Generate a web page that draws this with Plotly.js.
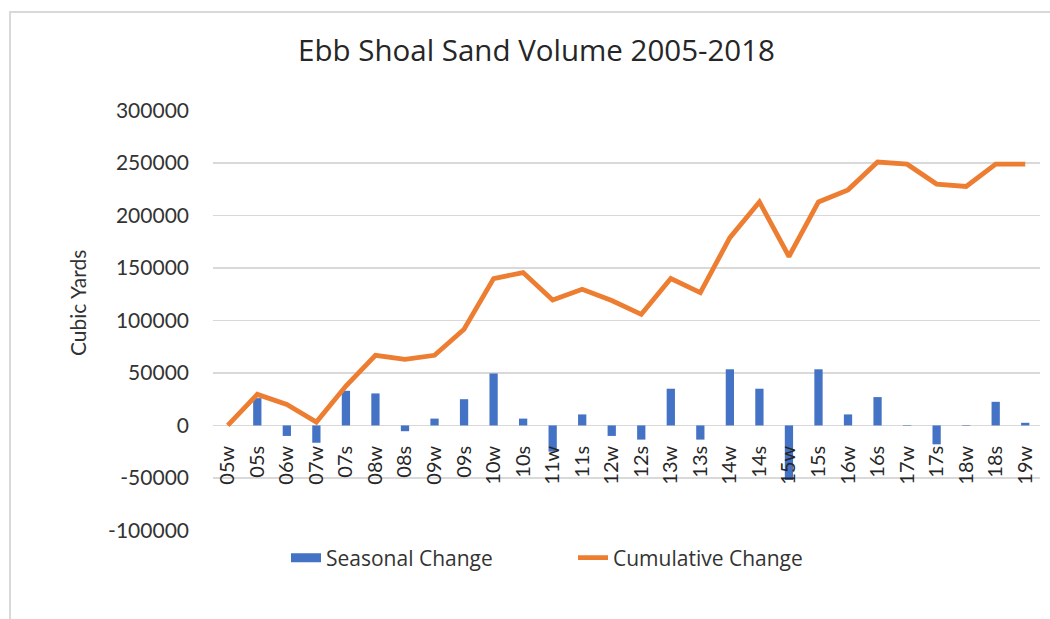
<!DOCTYPE html>
<html>
<head>
<meta charset="utf-8">
<script src="https://cdn.plot.ly/plotly-3.0.1.min.js"></script>
<style>
  html, body { margin: 0; padding: 0; background: #ffffff; overflow: hidden; }
  #wrap { position: relative; width: 1050px; height: 619px; }
  #chart { position: absolute; left: 0; top: 0; width: 1050px; height: 619px; }
  #frame { position: absolute; left: 9px; top: 11px; width: 1060px; height: 640px;
           border-left: 2px solid #d9d9d9; border-top: 2px solid #d9d9d9; pointer-events: none; }
</style>
</head>
<body>
<div id="wrap">
  <div id="chart"></div>
  <div id="frame"></div>
</div>
<script>
// Survey periods (w = winter, s = summer)
const periods = ['05w','05s','06w','07w','07s','08w','08s','09w','09s','10w','10s','11w','11s','12w',
                 '12s','13w','13s','14w','14s','15w','15s','16w','16s','17w','17s','18w','18s','19w'];

// Change in ebb shoal volume since the previous survey (cubic yards)
const seasonalChange = [0, 26000, -10000, -16500, 33000, 30500, -5500, 6500, 25000, 49500, 6500, -25000, 10500, -10000,
                        -13500, 35000, -13500, 53500, 35000, -52000, 53500, 10500, 27000, -500, -18000, -500, 22500, 2500];

// Running total of volume change since 2005 winter (cubic yards)
const cumulativeChange = [0, 29600, 20000, 3200, 37500, 66800, 63000, 66800, 91600, 140000, 145700, 119500, 129700, 119000,
                          105900, 140000, 126600, 179000, 213000, 161000, 213000, 224500, 251000, 249000, 230000, 227700, 249000, 249000];

const yTicks = [-100000, -50000, 0, 50000, 100000, 150000, 200000, 250000, 300000];

const blue = '#4472c4';
const orange = '#ed7d31';
const textFont = 'Lato, "Open Sans", sans-serif';
const wideFont = '"Open Sans", Lato, sans-serif';

const traces = [
  {
    type: 'bar',
    x: periods,
    y: seasonalChange,
    marker: { color: blue },
    showlegend: false,
    hoverinfo: 'x+y'
  },
  {
    type: 'scatter',
    mode: 'lines',
    x: periods,
    y: cumulativeChange,
    line: { color: orange, width: 4.8, shape: 'linear' },
    showlegend: false,
    hoverinfo: 'x+y'
  },
  // legend entries
  {
    type: 'scatter', mode: 'lines', x: [null], y: [null],
    name: 'Seasonal Change', line: { color: blue, width: 9 }
  },
  {
    type: 'scatter', mode: 'lines', x: [null], y: [null],
    name: 'Cumulative Change', line: { color: orange, width: 4.8 }
  }
];

const layout = {
  width: 1050,
  height: 619,
  margin: { l: 213, r: 10, t: 110, b: 88, autoexpand: false },
  paper_bgcolor: '#ffffff',
  plot_bgcolor: '#ffffff',
  font: { family: textFont, color: '#333333', size: 20 },
  title: {
    text: 'Ebb Shoal Sand Volume 2005-2018',
    x: 0.511, xanchor: 'center',
    y: 1 - 51 / 619, yanchor: 'middle', yref: 'container',
    font: { family: wideFont, size: 29.5, color: '#262626' }
  },
  bargap: 0.72,
  xaxis: {
    type: 'category',
    categoryorder: 'array',
    categoryarray: periods,
    range: [-0.5, periods.length - 0.5],
    anchor: 'free',
    position: 0.25,
    showgrid: false,
    showline: false,
    zeroline: false,
    ticks: '',
    tickangle: -90,
    ticklabelstandoff: 15,
    tickfont: { family: textFont, size: 20, color: '#262626' },
    fixedrange: true
  },
  yaxis: {
    range: [-100600, 300600],
    tickmode: 'array',
    tickvals: yTicks,
    ticktext: yTicks.map(v => String(v)),
    showgrid: true,
    gridcolor: '#d9d9d9',
    gridwidth: 1.5,
    zeroline: false,
    showline: false,
    ticks: '',
    ticklabelstandoff: 23,
    tickfont: { family: textFont, size: 21, color: '#333333' },
    fixedrange: true
  },
  annotations: [
    {
      text: 'Cubic Yards',
      xref: 'paper', yref: 'paper',
      x: (77 - 213) / 827, y: (531 - 303) / 421,
      xanchor: 'center', yanchor: 'middle',
      textangle: -90,
      showarrow: false,
      font: { family: textFont, size: 21, color: '#333333' }
    }
  ],
  legend: {
    orientation: 'h',
    x: (286 - 213) / 827, xanchor: 'left',
    y: (531 - 558) / 421, yanchor: 'middle',
    entrywidth: 242, entrywidthmode: 'pixels',
    itemwidth: 30,
    font: { family: wideFont, size: 21, color: '#333333' },
    bgcolor: 'rgba(0,0,0,0)'
  },
  showlegend: true
};

Plotly.newPlot('chart', traces, layout, { displayModeBar: false, staticPlot: true });
</script>
</body>
</html>
